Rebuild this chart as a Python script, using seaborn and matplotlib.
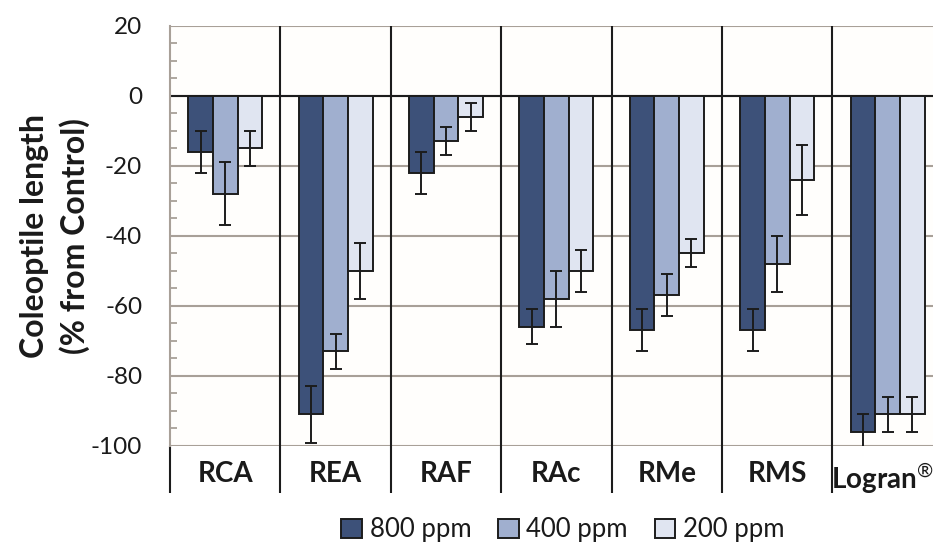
import matplotlib
matplotlib.use("Agg")
import matplotlib.pyplot as plt
from matplotlib.ticker import MultipleLocator
from matplotlib.transforms import ScaledTranslation
import numpy as np
import pandas as pd
import seaborn as sns

# Coleoptile length change relative to control, per treatment and dose
treatments = ["RCA", "REA", "RAF", "RAc", "RMe", "RMS", "Logran®"]
doses = ["800 ppm", "400 ppm", "200 ppm"]
mean_800 = [-16, -91, -22, -66, -67, -67, -96]
mean_400 = [-28, -73, -13, -58, -57, -48, -91]
mean_200 = [-15, -50, -6, -50, -45, -24, -91]
err_800 = [6, 8, 6, 5, 6, 6, 5]
err_400 = [9, 5, 4, 8, 6, 8, 5]
err_200 = [5, 8, 4, 6, 4, 10, 5]
y_ticks = [-100, -80, -60, -40, -20, 0, 20]

palette = ["#3d5179", "#a0afcf", "#e0e5f1"]
edge = "#1c1c1c"
grid_col = "#a8a098"

means = [mean_800, mean_400, mean_200]
errs = [err_800, err_400, err_200]
df = pd.DataFrame({
    "treatment": treatments * 3,
    "dose": [d for d in doses for _ in treatments],
    "change": [v for m in means for v in m],
})

sns.set_style("white")
plt.rcParams["font.family"] = ["Lato", "DejaVu Sans"]
plt.rcParams["mathtext.fontset"] = "custom"
plt.rcParams["mathtext.rm"] = "Lato"
plt.rcParams["axes.unicode_minus"] = False

W, H = 933, 545
fig = plt.figure(figsize=(W / 100, H / 100), dpi=100)
ax = fig.add_axes([170 / W, 99 / H, 772.8 / W, 420 / H])
ax.set_facecolor("#fffefc")

sns.barplot(data=df, x="treatment", y="change", hue="dose",
            order=treatments, hue_order=doses, palette=palette,
            saturation=1, errorbar=None, width=0.67,
            edgecolor=edge, linewidth=1.4, ax=ax, zorder=3)

# error bars on top of each bar
for cont, e in zip(ax.containers, errs):
    xs = [b.get_x() + b.get_width() / 2 for b in cont]
    ys = [b.get_y() + b.get_height() for b in cont]
    ax.errorbar(xs, ys, yerr=e, fmt="none", ecolor=edge, elinewidth=1.4,
                capsize=4.5, capthick=1.4, zorder=4)

ax.set_xlim(-0.5, len(treatments) - 0.5)
ax.set_ylim(-100, 20)
ax.set_yticks(y_ticks)
ax.yaxis.set_minor_locator(MultipleLocator(5))
ax.yaxis.grid(True, which="major", color=grid_col, lw=1.5, zorder=1)
ax.axhline(0, color=edge, lw=1.5, zorder=2)

for s in ["top", "right", "bottom"]:
    ax.spines[s].set_visible(False)
ax.spines["left"].set_color(grid_col)
ax.spines["left"].set_linewidth(1.5)

ax.tick_params(axis="y", which="major", direction="out", length=6.5,
               width=1.5, color=grid_col, labelsize=17.5, labelcolor="#1a1a1a", pad=13.5)
ax.tick_params(axis="y", which="minor", direction="in", length=5,
               width=1.3, color=grid_col, left=True)
ax.tick_params(axis="x", length=0, pad=11)

# category separators running down through the label band
trans = ax.get_xaxis_transform()
ax.vlines(np.arange(0.5, len(treatments) - 1, 1.0), -0.112, 1, transform=trans,
          color=edge, lw=1.5, clip_on=False, zorder=2)
ax.vlines([-0.5], -0.112, 0, transform=trans, color=edge, lw=1.5,
          clip_on=False, zorder=2)

ax.set_xticks(range(len(treatments)))
ax.set_xticklabels([t.replace("®", "$^{®}$") for t in treatments],
                   fontsize=20, fontweight="bold", color="#1a1a1a")
# keep the last label inside the figure edge
last = ax.get_xticklabels()[-1]
last.set_transform(last.get_transform() + ScaledTranslation(-4 / 72, 0, fig.dpi_scale_trans))

ax.set_xlabel("")
ax.set_ylabel("Coleoptile length\n(% from Control)", fontsize=23,
              fontweight="bold", color="#1a1a1a", linespacing=1.4)
ax.yaxis.set_label_coords(-0.103, 0.5)

ax.get_legend().remove()
handles = [c[0] for c in ax.containers]
fig.legend(handles, doses, loc="center", bbox_to_anchor=(563 / W, 15 / H),
           ncol=3, frameon=False, fontsize=18.5, handlelength=0.8,
           handleheight=0.8, handletextpad=0.3, columnspacing=1.05,
           labelcolor="#1a1a1a")

fig.savefig("out.png", dpi=100, facecolor="white")
